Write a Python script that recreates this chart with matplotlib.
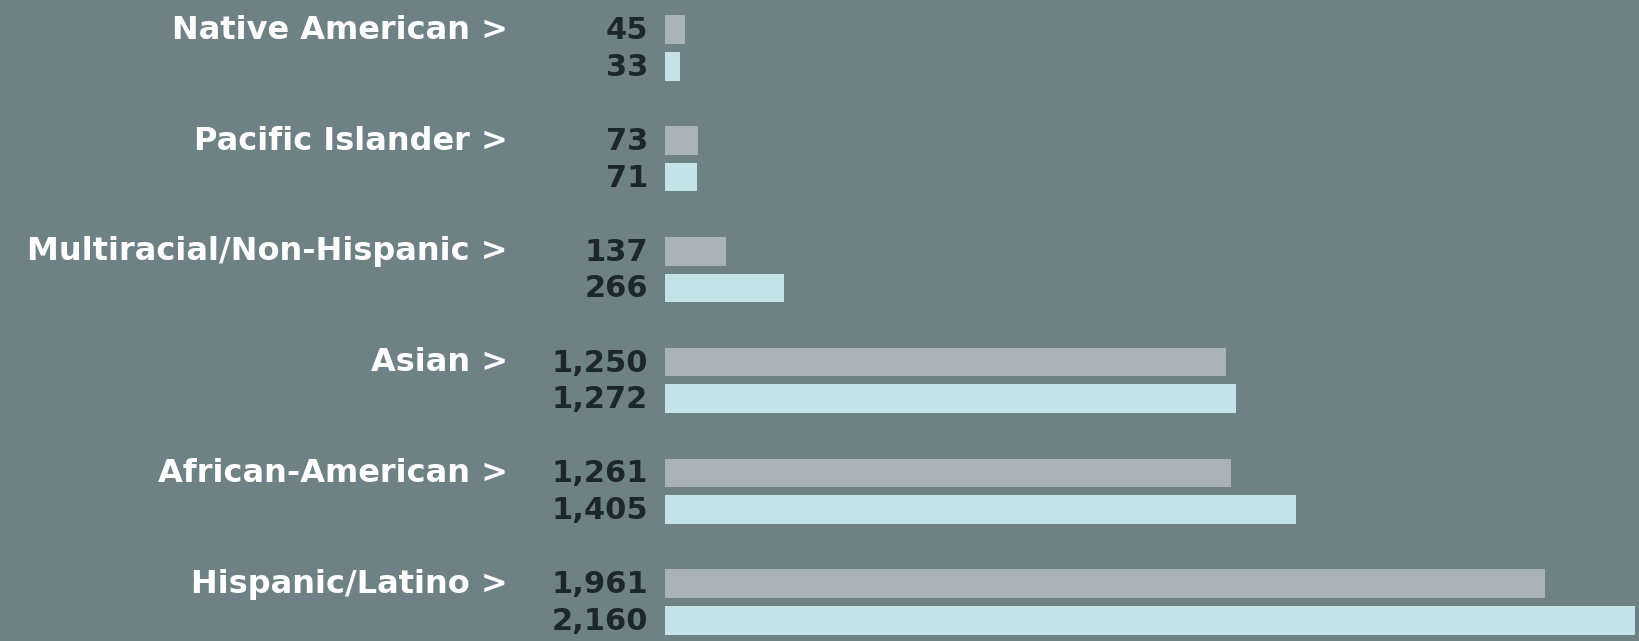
import matplotlib
matplotlib.use("Agg")
import matplotlib.pyplot as plt
import numpy as np
from matplotlib.transforms import offset_copy

categories = ["Native American", "Pacific Islander", "Multiracial/Non-Hispanic",
              "Asian", "African-American", "Hispanic/Latino"]
series_a = [45, 73, 137, 1250, 1261, 1961]
series_b = [33, 71, 266, 1272, 1405, 2160]

BG = "#6e8286"
COL_A = "#a9b1b9"
COL_B = "#c3e3e9"
TXT_DARK = "#1c272b"

W, H = 1639, 641
fig = plt.figure(figsize=(W / 100, H / 100), dpi=100, facecolor=BG)
x0 = 665 / W
ax = fig.add_axes([x0, 0, 1 - x0, 1])
ax.set_facecolor(BG)

pitch = 110.8
top_center = 48
n_units = H / pitch
y_top = -top_center / pitch
ax.set_ylim(y_top + n_units, y_top)
ax.set_xlim(0, 2170)

y = np.arange(len(categories))
off = 18.3 / pitch
h = 28.5 / pitch
ax.barh(y - off, series_a, height=h, color=COL_A, left=0)
ax.barh(y + off, series_b, height=h, color=COL_B, left=0)

val_tr = offset_copy(ax.transData, fig=fig, x=-17, y=2, units="dots")
cat_tr = offset_copy(ax.transData, fig=fig, x=-157, y=3, units="dots")

for i, (c, a, b) in enumerate(zip(categories, series_a, series_b)):
    ax.text(0, i - off, f"{a:,}", transform=val_tr, ha="right", va="center_baseline",
            fontsize=22, color=TXT_DARK, fontweight="bold", family="DejaVu Sans")
    ax.text(0, i + off, f"{b:,}", transform=val_tr, ha="right", va="center_baseline",
            fontsize=22, color=TXT_DARK, fontweight="bold", family="DejaVu Sans")
    ax.text(0, i - off, c + " >", transform=cat_tr, ha="right", va="center_baseline",
            fontsize=23, color="white", fontweight="bold", family="DejaVu Sans")

ax.axis("off")
fig.savefig("out.png", dpi=100, facecolor=BG)
